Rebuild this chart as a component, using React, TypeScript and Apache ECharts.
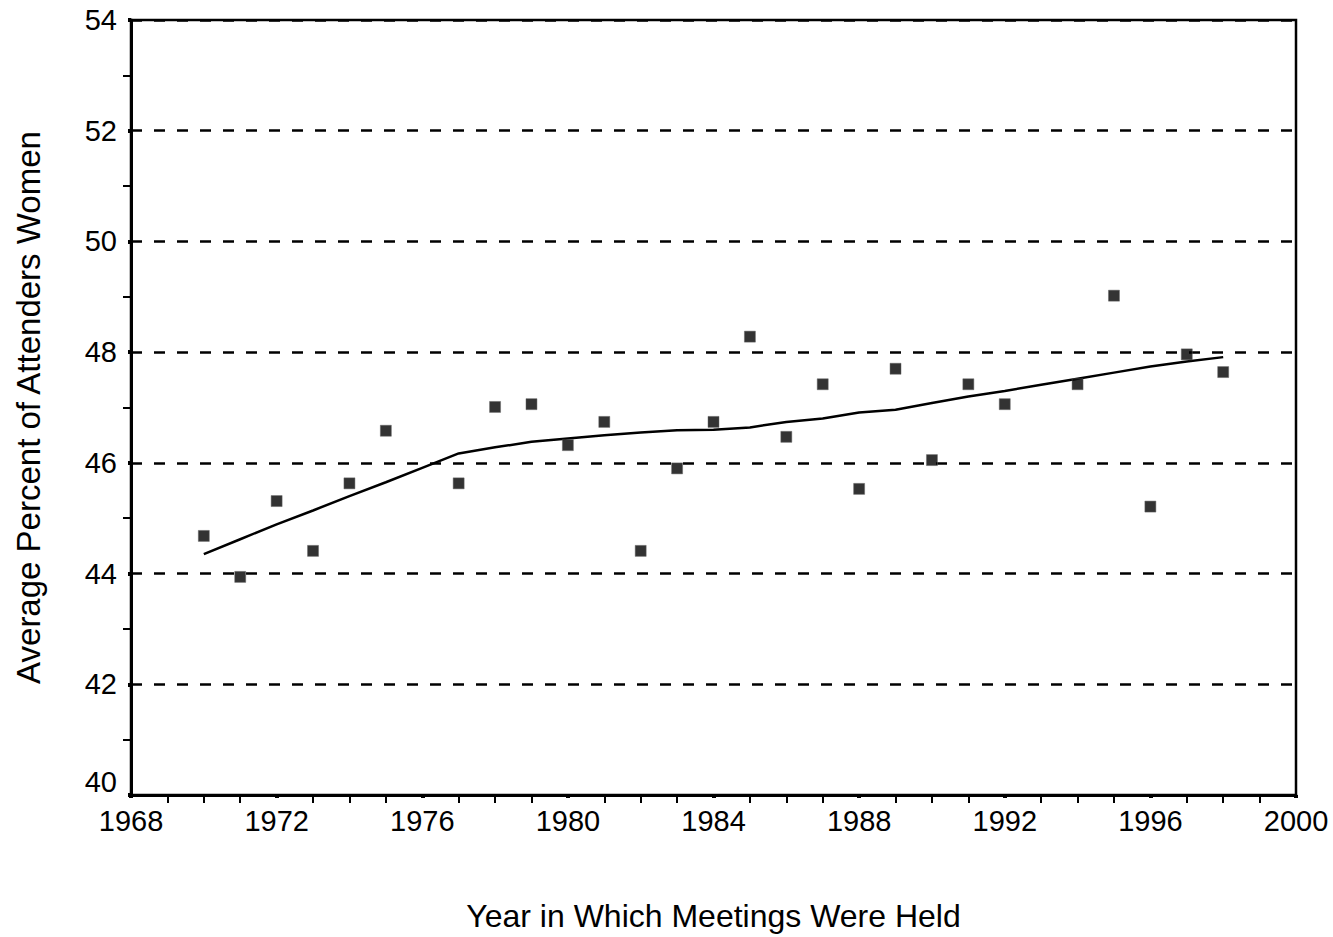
import React, { useEffect, useRef } from "react";
import * as echarts from "echarts";

const pointYears = [1970, 1971, 1972, 1973, 1974, 1975, 1977, 1978, 1979, 1980, 1981, 1982, 1983, 1984, 1985, 1986, 1987, 1988, 1989, 1990, 1991, 1992, 1994, 1995, 1996, 1997, 1998];
const pointValues = [44.68, 43.94, 45.31, 44.41, 45.63, 46.58, 45.63, 47.01, 47.06, 46.32, 46.74, 44.41, 45.9, 46.74, 48.28, 46.47, 47.42, 45.53, 47.7, 46.05, 47.42, 47.06, 47.42, 49.02, 45.21, 47.96, 47.64];

const trendYears = [1970, 1971, 1972, 1973, 1974, 1975, 1976, 1977, 1978, 1979, 1980, 1981, 1982, 1983, 1984, 1985, 1986, 1987, 1988, 1989, 1990, 1991, 1992, 1993, 1994, 1995, 1996, 1997, 1998];
const trendValues = [44.35, 44.62, 44.89, 45.14, 45.4, 45.65, 45.91, 46.17, 46.28, 46.38, 46.44, 46.5, 46.55, 46.59, 46.6, 46.64, 46.74, 46.8, 46.91, 46.96, 47.08, 47.2, 47.3, 47.41, 47.52, 47.63, 47.74, 47.83, 47.91];

const xTitle = "Year in Which Meetings Were Held";
const yTitle = "Average Percent of Attenders Women";

const FONT = "'Liberation Sans', Arial, sans-serif";

export default function App() {
  const ref = useRef<HTMLDivElement>(null);
  useEffect(() => {
    if (!ref.current) return;
    const chart = echarts.init(ref.current, null, { renderer: "svg" });
    chart.setOption({
      animation: false,
      backgroundColor: "#fff",
      grid: {
        left: 131,
        right: 37,
        top: 20,
        bottom: 142,
        show: true,
        borderColor: "#000",
        borderWidth: 2.5,
        backgroundColor: "transparent",
      },
      xAxis: {
        type: "value",
        min: 1968,
        max: 2000,
        interval: 4,
        name: xTitle,
        nameLocation: "middle",
        nameGap: 105,
        nameTextStyle: { fontSize: 32, color: "#000", fontFamily: FONT },
        axisLine: { show: true, onZero: false, lineStyle: { color: "#000", width: 3 } },
        axisTick: { show: true, length: 3, lineStyle: { color: "#000", width: 4 } },
        minorTick: { show: true, splitNumber: 4, length: 8, lineStyle: { color: "#000", width: 2 } },
        axisLabel: { fontSize: 29, color: "#000", fontFamily: FONT, margin: 11, formatter: (v: number) => String(v) },
        splitLine: { show: false },
        minorSplitLine: { show: false },
      },
      yAxis: {
        type: "value",
        min: 40,
        max: 54,
        interval: 2,
        name: yTitle,
        nameLocation: "middle",
        nameGap: 86,
        nameTextStyle: { fontSize: 33, color: "#000", fontFamily: FONT },
        axisLine: { show: true, onZero: false, lineStyle: { color: "#000", width: 3 } },
        axisTick: { show: true, length: 3, lineStyle: { color: "#000", width: 4 } },
        minorTick: { show: true, splitNumber: 2, length: 8, lineStyle: { color: "#000", width: 2 } },
        axisLabel: {
          fontSize: 29,
          color: "#000",
          fontFamily: FONT,
          margin: 14,
          formatter: (v: number) => (v === 40 ? "{low|" + v + "}" : String(v)),
          rich: {
            low: { fontSize: 29, color: "#000", fontFamily: FONT, padding: [0, 0, 26, 0] },
          },
        },
        splitLine: { show: true, lineStyle: { color: "#000", width: 2.5, type: [11, 12] } },
        minorSplitLine: { show: false },
      },
      series: [
        {
          type: "line",
          data: trendYears.map((y, i) => [y, trendValues[i]]),
          showSymbol: false,
          symbol: "none",
          smooth: false,
          lineStyle: { color: "#000", width: 2.5 },
          z: 3,
        },
        {
          type: "scatter",
          data: pointYears.map((y, i) => [y, pointValues[i]]),
          symbol: "rect",
          symbolSize: 11,
          itemStyle: { color: "#000", borderColor: "#666", borderWidth: 0.6 },
          z: 4,
        },
      ],
    });
    return () => chart.dispose();
  }, []);
  return (
    <div
      ref={ref}
      style={{ position: "fixed", left: 0, top: 0, width: 1333, height: 937, background: "#fff" }}
    />
  );
}
